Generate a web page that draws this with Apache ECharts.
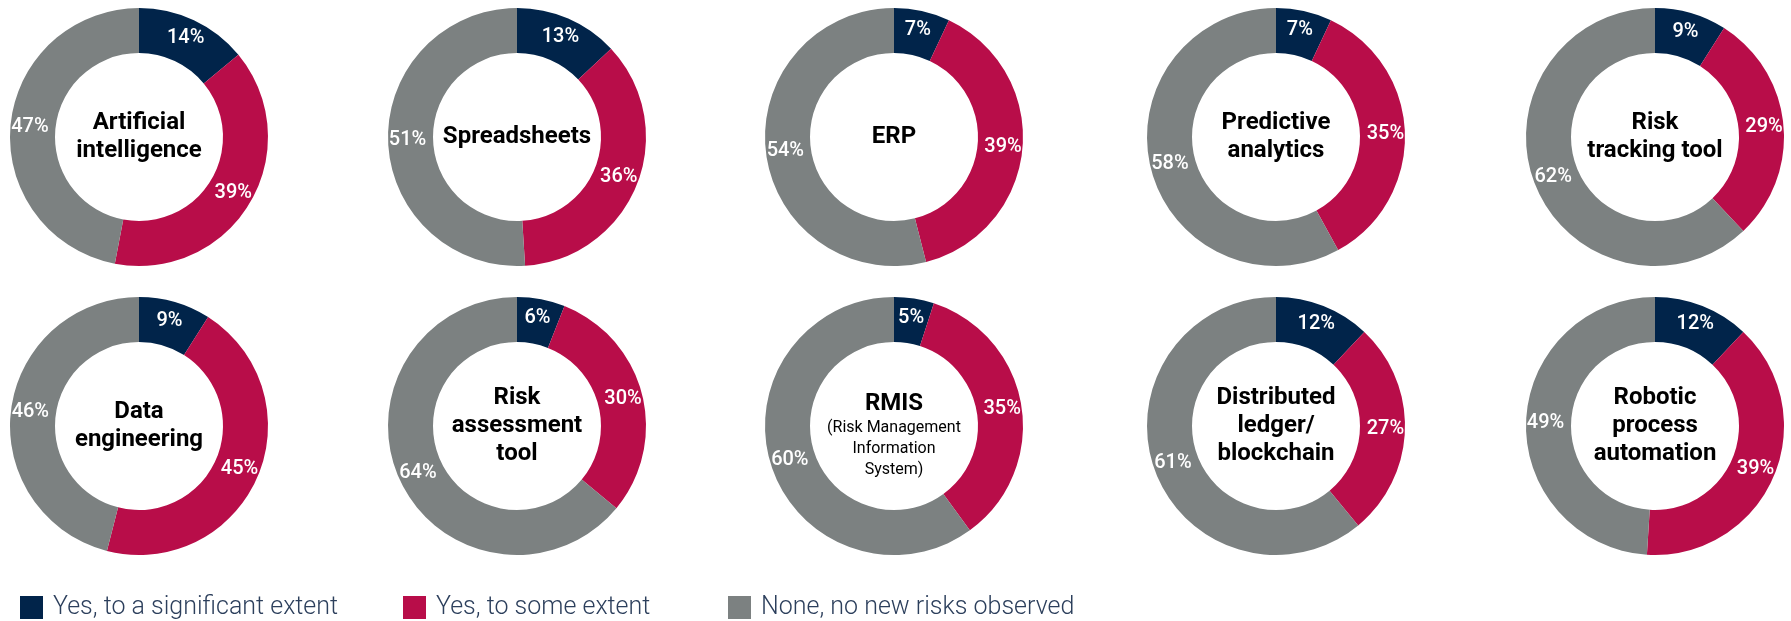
<!DOCTYPE html>
<html>
<head>
<meta charset="utf-8">
<script src="https://cdn.jsdelivr.net/npm/echarts@6/dist/echarts.min.js"></script>
<style>
  html, body { margin: 0; padding: 0; background: #fff; }
  #chart { width: 1791px; height: 621px; }
</style>
</head>
<body>
<div id="chart"></div>
<script>
// chart data
const tools = ['Artificial\nintelligence', 'Spreadsheets', 'ERP', 'Predictive\nanalytics', 'Risk\ntracking tool',
  'Data\nengineering', 'Risk\nassessment\ntool', 'RMIS', 'Distributed\nledger/\nblockchain', 'Robotic\nprocess\nautomation'];
const rmisSub = ['(Risk Management', 'Information', 'System)'];
const answers = ['Yes, to a significant extent', 'Yes, to some extent', 'None, no new risks observed'];
const significant = [14, 13, 7, 7, 9, 9, 6, 5, 12, 12];
const someExtent = [39, 36, 39, 35, 29, 45, 30, 35, 27, 39];
const noneObserved = [47, 51, 54, 58, 62, 46, 64, 60, 61, 49];

const colors = ['#01244a', '#b80d49', '#7c8181'];
const colX = [139, 517, 894, 1276, 1655];
const rowY = [137, 426];
const font = 'Roboto, "Noto Sans", sans-serif';
const navy = '#0c2d5c';

const series = [];
const graphic = [];
tools.forEach((name, i) => {
  const cx = colX[i % 5];
  const cy = rowY[Math.floor(i / 5)];
  series.push({
    type: 'pie',
    name: name,
    center: [cx, cy],
    radius: [84, 129],
    startAngle: 90,
    clockwise: true,
    silent: true,
    itemStyle: { borderWidth: 0 },
    label: {
      show: true,
      position: 'inside',
      formatter: '{c}%',
      color: '#fff',
      fontFamily: font,
      fontWeight: 500,
      fontSize: 20
    },
    labelLine: { show: false },
    emphasis: { disabled: true },
    data: [
      { name: answers[0], value: significant[i] },
      { name: answers[1], value: someExtent[i] },
      { name: answers[2], value: noneObserved[i] }
    ]
  });
  let text = name.split('\n').map(s => '{t|' + s + '}').join('\n');
  if (name === 'RMIS') {
    text += '\n' + rmisSub.map(s => '{s|' + s + '}').join('\n');
  }
  graphic.push({
    type: 'text',
    x: cx,
    y: name === 'RMIS' ? cy + 9 : cy,
    silent: true,
    style: {
      text: text,
      align: 'center',
      verticalAlign: 'middle',
      rich: {
        t: { fontFamily: font, fontWeight: 'bold', fontSize: 24, lineHeight: 28, color: navy, align: 'center' },
        s: { fontFamily: font, fontSize: 16, lineHeight: 21, color: navy, align: 'center' }
      }
    }
  });
});

const legendLeft = [15, 398, 723];
const legend = answers.map((a, k) => ({
  data: [a],
  left: legendLeft[k],
  top: 590,
  itemWidth: 23,
  itemHeight: 23,
  itemGap: 0,
  icon: 'rect',
  selectedMode: false,
  textStyle: {
    fontFamily: font,
    fontWeight: 300,
    fontSize: 25,
    color: '#2c3f5c',
    padding: [0, 0, 0, 5]
  }
}));

const chart = echarts.init(document.getElementById('chart'));
chart.setOption({
  animation: false,
  color: colors,
  legend: legend,
  series: series,
  graphic: graphic
});
</script>
</body>
</html>
